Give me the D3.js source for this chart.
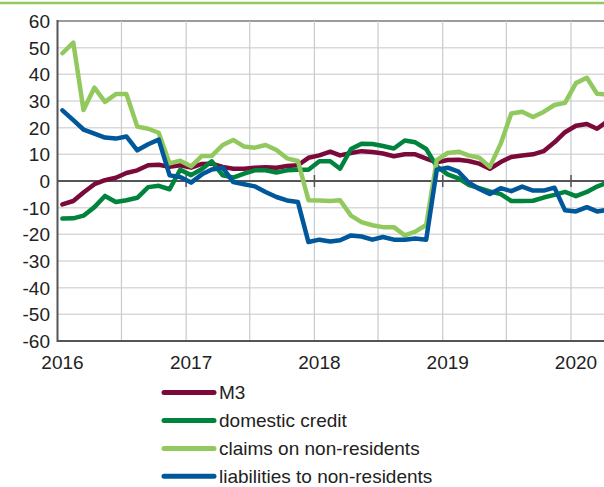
<!DOCTYPE html>
<html>
<head>
<meta charset="utf-8">
<script src="https://cdn.jsdelivr.net/npm/d3@7/dist/d3.min.js"></script>
<style>
html,body{margin:0;padding:0;background:#fff;}
svg{display:block;font-family:"Liberation Sans",Arial,sans-serif;}
</style>
</head>
<body>
<svg id="chart" width="604" height="487"></svg>
<script>
// Monthly observations, Jan 2016 – Apr 2020 (y/y % change)
const startMonth = "2016-01";
const m3 = [-8.8,-7.5,-4.3,-1.2,0.3,1.2,3.0,4.0,5.9,6.1,5.3,5.9,
            5.0,6.4,6.5,5.3,4.6,4.6,5.0,5.2,5.0,5.6,5.9,8.7,
            9.6,11.0,9.6,10.5,11.2,10.9,10.3,9.3,10.0,10.0,8.4,7.0,
            7.9,8.0,7.5,6.5,4.6,7.1,9.0,9.6,10.0,11.2,14.5,18.3,
            20.7,21.4,19.6,22.5];
const domesticCredit = [-14.1,-14.0,-13.0,-9.8,-5.6,-7.9,-7.2,-6.3,-2.3,-1.8,-3.1,4.2,
            2.2,4.5,7.4,2.1,1.3,2.8,4.0,4.0,3.2,4.0,4.2,4.2,
            7.4,7.4,4.6,12.0,14.0,13.9,13.1,12.2,15.2,14.5,12.0,5.5,
            2.5,1.0,-1.4,-2.7,-3.9,-4.9,-7.5,-7.5,-7.4,-6.2,-5.2,-4.1,
            -5.7,-4.1,-2.1,-0.5];
const claimsNonRes = [47.9,51.9,26.6,35.0,29.7,32.6,32.6,20.4,19.6,18.1,6.6,7.6,
            5.5,9.4,9.4,13.5,15.4,12.9,12.5,13.5,11.6,8.5,7.5,-7.2,
            -7.3,-7.5,-7.2,-13.0,-15.4,-16.6,-17.3,-17.3,-20.4,-19.0,-16.5,7.8,
            10.5,11.0,9.6,8.7,5.3,14.0,25.3,26.0,24.0,25.9,28.5,29.3,
            36.7,38.7,32.7,32.5];
const liabNonRes = [26.5,22.8,19.3,17.8,16.3,15.9,16.7,11.5,13.8,15.5,2.1,1.5,
            -0.6,2.5,4.3,5.0,-0.4,-1.2,-2.0,-4.1,-6.0,-7.3,-7.9,-22.9,
            -22.0,-22.7,-22.2,-20.4,-20.8,-22.0,-21.0,-22.0,-22.0,-21.6,-22.0,4.2,
            5.0,3.5,-0.5,-3.0,-4.9,-2.7,-3.8,-2.1,-3.6,-3.6,-2.5,-11.0,
            -11.4,-9.8,-11.4,-10.8];
const seriesNames = ["M3","domestic credit","claims on non-residents","liabilities to non-residents"];
const seriesColors = ["#7b0a3a","#00843d","#92c95e","#00589b"];
const yTicks = [60,50,40,30,20,10,0,-10,-20,-30,-40,-50,-60];
const yearLabels = ["2016","2017","2018","2019","2020"];

const svg = d3.select("#chart");
const W = 604, H = 487;
const plotLeft = 57.5, plotTop = 21, plotBottom = 341;

// top accent line
svg.append("line").attr("x1",0).attr("x2",W).attr("y1",3).attr("y2",3)
  .attr("stroke","#92c95e").attr("stroke-width",2.5);

const parseM = d3.timeParse("%Y-%m");
const start = parseM(startMonth);
const months = d3.timeMonth.range(start, d3.timeMonth.offset(start, m3.length));
const dates = months.map(d => d3.timeDay.offset(d, 14));

const x = d3.scaleTime()
  .domain([new Date(2016,0,1), new Date(2020,0,1)])
  .range([plotLeft, 571]);
const y = d3.scaleLinear().domain([-60,60]).range([plotBottom, plotTop]);

const grid = svg.append("g");
// horizontal gridlines
grid.selectAll("line.h").data(yTicks.filter(v => v !== 0 && v !== -60)).enter()
  .append("line")
  .attr("x1",plotLeft).attr("x2",W)
  .attr("y1",d=>y(d)).attr("y2",d=>y(d))
  .attr("stroke", d => d===60 ? "#7a7a7a" : "#d9d9d9").attr("stroke-width", 1.5);
// vertical gridlines every six months
const halfYears = d3.timeMonth.every(6).range(new Date(2016,6,1), new Date(2020,7,1));
grid.selectAll("line.v").data(halfYears).enter()
  .append("line")
  .attr("x1",d=>x(d)).attr("x2",d=>x(d))
  .attr("y1",plotTop).attr("y2",plotBottom)
  .attr("stroke","#c6cbd1").attr("stroke-width",1.2);

// axes lines
svg.append("line").attr("x1",plotLeft).attr("x2",W).attr("y1",y(0)).attr("y2",y(0))
  .attr("stroke","#555").attr("stroke-width",2);
svg.append("line").attr("x1",plotLeft).attr("x2",W).attr("y1",plotBottom).attr("y2",plotBottom)
  .attr("stroke","#555").attr("stroke-width",2);
svg.append("line").attr("x1",plotLeft).attr("x2",plotLeft).attr("y1",plotTop-1).attr("y2",plotBottom+1)
  .attr("stroke","#555").attr("stroke-width",2);

// year ticks on zero line
const years = yearLabels.map(s => new Date(+s,0,1));
svg.selectAll("line.yt").data(years.slice(1)).enter().append("line")
  .attr("x1",d=>x(d)).attr("x2",d=>x(d))
  .attr("y1",y(0)-6).attr("y2",y(0)+6)
  .attr("stroke","#555").attr("stroke-width",1.5);

// y labels
svg.selectAll("text.yl").data(yTicks).enter().append("text")
  .attr("x",50).attr("y",d=>y(d)+7)
  .attr("text-anchor","end").attr("font-size",19).attr("fill","#222")
  .text(d=>d);
// x labels
svg.selectAll("text.xl").data(yearLabels).enter().append("text")
  .attr("x",d=>x(new Date(+d,0,1))+5).attr("y",369)
  .attr("text-anchor","middle").attr("font-size",19).attr("fill","#222")
  .text(d=>d);

// series
const allSeries = [m3, domesticCredit, claimsNonRes, liabNonRes];
const line = d3.line().x((d,i)=>x(dates[i])).y(d=>y(d));
[0,1,2,3].forEach(k => {
  svg.append("path").datum(allSeries[k])
    .attr("d", line)
    .attr("fill","none")
    .attr("stroke", seriesColors[k])
    .attr("stroke-width", 4.5)
    .attr("stroke-linejoin","round")
    .attr("stroke-linecap","round");
});

// legend
const legY = [392.5, 420.5, 448.5, 476.2];
const leg = svg.append("g");
seriesNames.forEach((n,k) => {
  leg.append("line").attr("x1",164).attr("x2",214)
    .attr("y1",legY[k]).attr("y2",legY[k])
    .attr("stroke",seriesColors[k]).attr("stroke-width",5).attr("stroke-linecap","round");
  leg.append("text").attr("x",219).attr("y",legY[k]+6.5)
    .attr("font-size",19).attr("fill","#222").text(n);
});
</script>
</body>
</html>
